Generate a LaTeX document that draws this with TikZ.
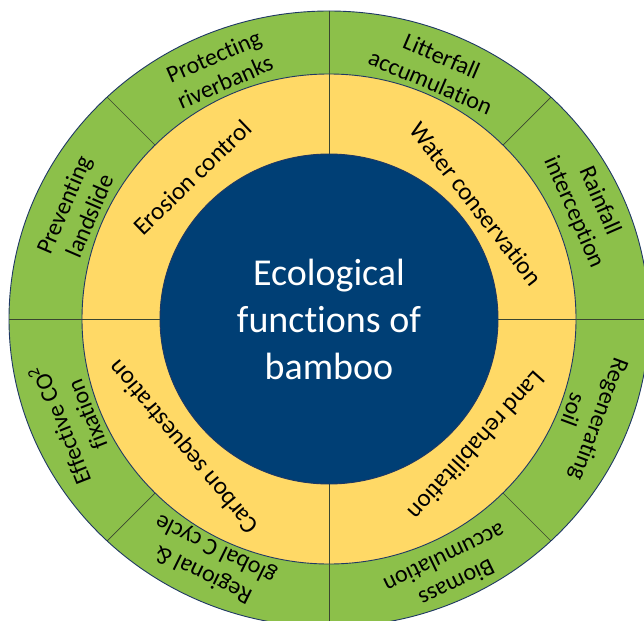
\documentclass[tikz,border=0pt]{standalone}
\usepackage{fontspec}
\setmainfont[Ligatures=NoCommon]{Carlito}
\definecolor{ringgreen}{HTML}{8CC04A}
\definecolor{ringyellow}{HTML}{FFD966}
\definecolor{coreblue}{HTML}{003F75}
\definecolor{rimline}{HTML}{1F3864}
\definecolor{divline}{HTML}{3A4630}
\begin{document}
\begin{tikzpicture}[x=1pt,y=1pt,
  gtext/.style={font=\fontsize{24}{28}\selectfont, align=center, text=black, inner sep=0pt},
  ytext/.style={font=\fontsize{25}{30}\selectfont, text=black, inner sep=0pt},
  rim/.style={draw=rimline, line width=0.9pt},
  divider/.style={draw=divline, line width=0.7pt}]
\useasboundingbox (0,0) rectangle (644,-620);
\clip (0,0) rectangle (644,-620);
\coordinate (O) at (329,-319);
% outer green ring
\path[fill=ringgreen] (O) ellipse [x radius=320, y radius=308];
\begin{scope}
  \clip (O) ellipse [x radius=320, y radius=308];
  \foreach \a in {0,45,...,315} \draw[divider] (O) -- ++(\a:400);
\end{scope}
\draw[rim] (O) ellipse [x radius=320, y radius=308];
% middle yellow ring
\path[fill=ringyellow] (O) ellipse [x radius=247, y radius=245];
\begin{scope}
  \clip (O) ellipse [x radius=247, y radius=245];
  \foreach \a in {0,90,180,270} \draw[divider] (O) -- ++(\a:300);
\end{scope}
\draw[rim] (O) ellipse [x radius=247, y radius=245];
% core
\draw[rim, fill=coreblue] (O) ellipse [x radius=169, y radius=165];
\node[font=\fontsize{38}{47}\selectfont, text=white, align=center, inner sep=0pt] (title) at (329,-319) {Ecological\\functions of\\bamboo};
% yellow ring labels
\node[ytext, rotate=44] (erosion) at ([shift={(134:197)}]O) {Erosion control};
\node[ytext, rotate=-52] (water) at ([shift={(38:187)}]O) {Water conservation};
\node[ytext, rotate=-132] (land) at ([shift={(-40.6:195)}]O) {Land rehabilitation};
\node[ytext, rotate=130] (carbon) at ([shift={(221.4:193)}]O) {Carbon sequestration};
% green ring labels
\node[gtext, rotate=23.7] (river) at ([shift={(113.7:273)}]O) {Protecting\\riverbanks};
\node[gtext, rotate=66.7] (slide) at ([shift={(156.7:275)}]O) {Preventing\\landslide};
\node[gtext, rotate=-23.2] (litter) at ([shift={(66.8:272)}]O) {Litterfall\\accumulation};
\node[gtext, rotate=-66.4] (rain) at ([shift={(23.6:281)}]O) {Rainfall\\interception};
\node[gtext, rotate=-110.4] (soil) at ([shift={(-20.4:275)}]O) {Regenerating\\soil};
\node[gtext, rotate=-154.2] (biomass) at ([shift={(-64.2:280)}]O) {Biomass\\accumulation};
\node[gtext, rotate=153.8] (cycle) at ([shift={(243.8:270)}]O) {Regional \&\\global C cycle};
\node[gtext, rotate=111.6] (co2) at ([shift={(201.6:276)}]O) {Effective CO\textsuperscript{2}\\fixation};
\end{tikzpicture}
\end{document}
